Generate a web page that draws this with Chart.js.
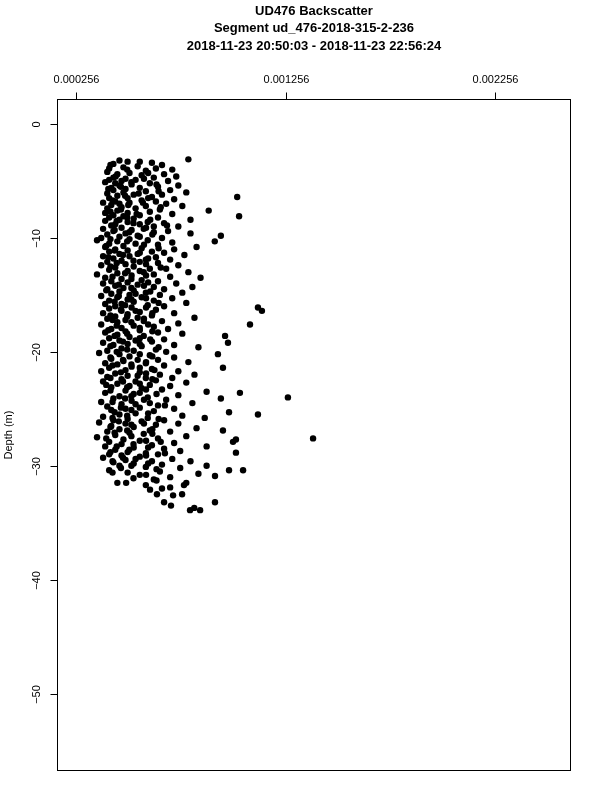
<!DOCTYPE html>
<html>
<head>
<meta charset="utf-8">
<script src="https://cdn.jsdelivr.net/npm/chart.js@4/dist/chart.umd.min.js"></script>
<style>
  html, body { margin: 0; padding: 0; background: #fff; }
  canvas { display: block; }
</style>
</head>
<body>
<canvas id="plot" width="600" height="800"></canvas>
<script>
// depth (m) and backscatter, in matching order
const depth = [
  -3.1,-3.2,-3.3,-3.4,-3.5,-3.6,-3.7,-3.8,-3.9,-3.9,-4.0,-4.1,
  -4.2,-4.3,-4.4,-4.4,-4.5,-4.6,-4.7,-4.7,-4.8,-4.9,-4.9,-5.0,-5.0,
  -5.1,-5.2,-5.2,-5.3,-5.4,-5.4,-5.5,-5.6,-5.6,-5.7,-5.8,-5.8,-5.9,-6.0,-6.0,
  -6.1,-6.2,-6.2,-6.3,-6.4,-6.4,-6.5,-6.5,-6.6,-6.7,-6.8,-6.8,-6.9,-6.9,-7.0,-7.0,
  -7.1,-7.2,-7.2,-7.3,-7.4,-7.4,-7.5,-7.6,-7.6,-7.7,-7.8,-7.8,-7.9,-8.0,-8.0,
  -8.1,-8.1,-8.2,-8.2,-8.3,-8.4,-8.4,-8.5,-8.6,-8.6,-8.7,-8.8,-8.8,-8.9,-9.0,-9.0,
  -9.1,-9.2,-9.2,-9.3,-9.4,-9.4,-9.5,-9.6,-9.6,-9.7,-9.8,-9.8,-9.9,-10.0,-10.0,
  -10.1,-10.2,-10.2,-10.3,-10.3,-10.4,-10.5,-10.5,-10.6,-10.7,-10.8,-10.8,-10.9,-11.0,-11.0,
  -11.1,-11.2,-11.2,-11.3,-11.4,-11.4,-11.5,-11.6,-11.6,-11.7,-11.8,-11.9,-11.9,-12.0,
  -12.1,-12.1,-12.2,-12.3,-12.4,-12.4,-12.5,-12.6,-12.7,-12.7,-12.8,-12.9,-13.0,-13.0,
  -13.1,-13.2,-13.2,-13.3,-13.4,-13.5,-13.5,-13.6,-13.7,-13.8,-13.8,-13.9,-14.0,-14.0,
  -14.1,-14.2,-14.3,-14.3,-14.4,-14.5,-14.5,-14.6,-14.7,-14.8,-14.8,-14.9,-15.0,-15.0,
  -15.1,-15.2,-15.2,-15.3,-15.4,-15.5,-15.5,-15.6,-15.7,-15.8,-15.8,-15.9,-16.0,-16.0,
  -16.1,-16.1,-16.2,-16.3,-16.4,-16.4,-16.5,-16.6,-16.6,-16.7,-16.8,-16.9,-17.0,-17.0,
  -17.1,-17.2,-17.3,-17.3,-17.4,-17.5,-17.6,-17.6,-17.7,-17.8,-17.9,-18.0,-18.0,
  -18.1,-18.2,-18.3,-18.3,-18.4,-18.5,-18.6,-18.6,-18.7,-18.8,-18.9,-19.0,-19.0,
  -19.1,-19.2,-19.2,-19.3,-19.4,-19.4,-19.5,-19.6,-19.7,-19.8,-19.9,-19.9,-20.0,
  -20.1,-20.2,-20.3,-20.2,-20.4,-20.5,-20.6,-20.7,-20.7,-20.8,-20.9,-21.0,-21.0,
  -21.1,-21.2,-21.3,-21.4,-21.4,-21.5,-21.6,-21.7,-21.7,-21.8,-21.9,-22.0,-22.0,
  -22.1,-22.2,-22.3,-22.3,-22.4,-22.5,-22.6,-22.6,-22.7,-22.8,-22.9,-23.0,-23.0,
  -23.1,-23.2,-23.3,-23.4,-23.5,-23.6,-23.6,-23.7,-23.8,-23.9,-24.0,-24.0,
  -24.1,-24.1,-24.2,-24.3,-24.4,-24.5,-24.5,-24.6,-24.7,-24.8,-24.9,-25.0,-25.0,
  -25.1,-25.2,-25.3,-25.4,-25.5,-25.5,-25.6,-25.7,-25.8,-25.8,-25.9,-26.0,-26.0,
  -26.1,-26.2,-26.3,-26.3,-26.4,-26.5,-26.6,-26.7,-26.8,-26.9,-26.9,-27.0,-27.0,
  -27.1,-27.2,-27.3,-27.4,-27.5,-27.6,-27.6,-27.7,-27.7,-27.8,-27.9,-28.0,-27.9,
  -28.1,-28.2,-28.3,-28.3,-28.4,-28.5,-28.6,-28.7,-28.8,-28.9,-28.85,-29.0,-29.0,
  -29.1,-29.2,-29.3,-29.4,-29.5,-29.6,-29.6,-29.7,-29.8,-29.9,-30.0,-30.0,
  -30.1,-30.2,-30.4,-30.5,-30.4,-30.4,-30.6,-30.7,-30.8,-31.0,-30.9,
  -31.2,-31.5,-31.5,-31.5,-31.7,-31.9,-32.0,
  -32.1,-32.5,-33.2,-33.5,-32.6,-32.5,-31.7,-33.2,-33.9,-33.9,-33.7,
  // denser core
  -3.3,-3.6,-4.0,-4.3,-4.6,-4.8,-5.1,-5.3,-5.5,-5.7,-5.9,-6.1,-6.3,-6.5,-6.7,-6.9,
  -7.1,-7.3,-7.5,-7.7,-7.9,-8.2,-8.4,-8.5,-8.7,-8.9,-9.1,-9.3,-9.5,-9.7,-9.9,
  -10.1,-10.3,-10.6,-10.7,-10.9,-11.1,-11.3,-11.5,-11.7,-11.8,-12.0,-12.2,-12.3,-12.5,-12.6,-12.9,
  -13.1,-13.3,-13.4,-13.6,-13.9,-14.1,-14.2,-14.4,-14.6,-14.7,-14.9,
  -15.1,-15.3,-15.4,-15.6,-15.7,-15.9,-16.1,-16.3,-16.4,-16.6,-16.8,-16.9,
  -17.1,-17.2,-17.4,-17.6,-17.7,-17.9,-18.1,-18.2,-18.4,-18.6,-18.8,-18.9,
  -19.1,-19.3,-19.5,-19.6,-19.8,-20.0,-20.2,-20.4,-20.5,-20.7,-20.9,
  -21.1,-21.2,-21.4,-21.6,-21.8,-21.9,-22.1,-22.3,-22.4,-22.6,-22.8,-22.9,
  -23.1,-23.3,-23.4,-23.6,-23.7,-23.9,-24.1,-24.2,-24.4,-24.6,-24.7,-24.9,
  -25.1,-25.3,-25.4,-25.6,-25.8,-25.9,-26.1,-26.3,-26.4,-26.6,-26.8,-26.9,
  -27.1,-27.2,-27.4,-27.6,-27.8,-27.9,-28.1,-28.3,-28.4,-28.6,-28.8,-28.9,
  -29.1,-29.3,-29.4,-29.6,-29.8,-30.0,-30.2,-30.3,-30.6,-30.8,-31.1,-31.3
];

const backscatter = [
  0.000792,0.000463,0.000502,0.000618,0.000434,0.000666,0.000550,0.000482,0.000414,0.000637,0.000715,0.000589,
  0.000405,0.000511,0.000453,0.000676,0.000569,0.000734,0.000434,0.000627,0.000492,0.000540,0.000414,0.000695,0.000473,
  0.000395,0.000443,0.000608,0.000521,0.000744,0.000463,0.000647,0.000424,0.000560,0.000492,0.000705,0.000434,0.000589,0.000482,0.000782,
  0.000405,0.000531,0.000666,0.000453,0.001025,0.000618,0.000414,0.000502,0.000724,0.000569,0.000443,0.000637,0.000385,0.000511,0.000686,0.000463,
  0.000424,0.000589,0.000763,0.000473,0.000540,0.000405,0.000656,0.000889,0.000453,0.000608,0.000502,0.000395,0.000715,0.000560,0.000434,
  0.001034,0.000482,0.000414,0.000647,0.000531,0.000463,0.000802,0.000395,0.000598,0.000502,0.000676,0.000443,0.000560,0.000424,0.000627,0.000744,
  0.000473,0.000385,0.000579,0.000521,0.000695,0.000434,0.000627,0.000492,0.000802,0.000405,0.000550,0.000947,0.000463,0.000666,0.000376,
  0.000511,0.000356,0.000598,0.000918,0.000453,0.000715,0.000414,0.000540,0.000647,0.000482,0.000831,0.000395,0.000569,0.000443,0.000724,
  0.000502,0.000618,0.000414,0.000676,0.000463,0.000550,0.000773,0.000385,0.000511,0.000637,0.000434,0.000589,0.000705,0.000473,
  0.000405,0.000560,0.000647,0.000492,0.000744,0.000376,0.000531,0.000443,0.000608,0.000686,0.000414,0.000502,0.000579,0.000792,
  0.000453,0.000356,0.000627,0.000521,0.000705,0.000395,0.000850,0.000473,0.000569,0.000647,0.000424,0.000502,0.000734,0.000385,
  0.000550,0.000443,0.000811,0.000627,0.000482,0.000405,0.000676,0.000531,0.000463,0.000589,0.000763,0.000424,0.000511,0.000656,
  0.000376,0.000569,0.000453,0.000715,0.000502,0.000414,0.000627,0.000531,0.000782,0.000473,0.000395,0.000598,0.000676,0.000443,
  0.001124,0.000521,0.000414,0.000637,0.000473,0.001143,0.000560,0.000385,0.000724,0.000502,0.000618,0.000443,0.000550,0.000821,
  0.000405,0.000492,0.000666,0.000579,0.000453,0.000744,0.001086,0.000376,0.000531,0.000627,0.000473,0.000424,0.000695,
  0.000560,0.000492,0.000395,0.000647,0.000763,0.000453,0.000579,0.000967,0.000511,0.000414,0.000676,0.000540,0.000463,
  0.000618,0.000981,0.000385,0.000502,0.000724,0.000434,0.000569,0.000840,0.000473,0.000637,0.000405,0.000531,0.000686,
  0.000366,0.000463,0.000608,0.000933,0.000511,0.000724,0.000424,0.000550,0.000647,0.000482,0.000792,0.000395,0.000589,
  0.000453,0.000676,0.000521,0.000957,0.000414,0.000618,0.000492,0.000744,0.000376,0.000560,0.000443,0.000656,0.000821,
  0.000502,0.000405,0.000589,0.000715,0.000473,0.000637,0.000385,0.000540,0.000782,0.000453,0.000608,0.000511,0.000705,
  0.000424,0.000569,0.000666,0.000492,0.000879,0.001038,0.000395,0.000531,0.000744,0.000463,0.001267,0.000598,
  0.000947,0.000434,0.000686,0.000521,0.000376,0.000608,0.000811,0.000473,0.000647,0.000405,0.000560,0.000724,0.000492,
  0.000424,0.000627,0.000986,0.000540,0.001124,0.000463,0.000763,0.000385,0.000598,0.000870,0.000502,0.000676,0.000434,
  0.000569,0.000366,0.000744,0.000492,0.000637,0.000424,0.000531,0.000831,0.000463,0.000608,0.000957,0.000405,0.000705,
  0.000511,0.000579,0.000443,0.000782,0.000356,0.000647,0.001387,0.000482,0.001019,0.000560,0.000414,0.000724,0.001005,
  0.000473,0.000618,0.000395,0.000879,0.000531,0.000676,0.000443,0.000753,0.000502,0.000589,0.001019,0.000414,0.000647,
  0.000473,0.000560,0.000385,0.000715,0.000492,0.000802,0.000618,0.000434,0.000531,0.000666,0.000879,0.000463,
  0.000589,0.000753,0.000414,0.000656,0.001053,0.000986,0.000502,0.000840,0.000560,0.000705,0.000919,
  0.000627,0.000453,0.000495,0.000782,0.000589,0.000705,0.000666,
  0.000609,0.000642,0.000676,0.000709,0.000719,0.000762,0.000771,0.000919,0.000848,0.000800,0.000820,
  // denser core
  0.000560,0.000420,0.000500,0.000600,0.000445,0.000580,0.000520,0.000640,0.000470,0.000410,0.000650,0.000555,0.000490,0.000600,0.000430,0.000575,
  0.000505,0.000660,0.000470,0.000420,0.000545,0.000500,0.000610,0.000450,0.000530,0.000690,0.000590,0.000440,0.000510,0.000620,0.000560,
  0.000420,0.000500,0.000580,0.000400,0.000650,0.000440,0.000560,0.000480,0.000410,0.000600,0.000530,0.000450,0.000590,0.000420,0.000660,0.000560,
  0.000490,0.000590,0.000430,0.000520,0.000600,0.000460,0.000580,0.000520,0.000400,0.000610,0.000540,
  0.000460,0.000590,0.000520,0.000440,0.000650,0.000490,0.000590,0.000470,0.000540,0.000620,0.000420,0.000500,
  0.000580,0.000430,0.000520,0.000600,0.000450,0.000560,0.000410,0.000620,0.000500,0.000440,0.000560,0.000610,
  0.000480,0.000560,0.000420,0.000650,0.000500,0.000450,0.000560,0.000620,0.000420,0.000480,0.000590,
  0.000520,0.000430,0.000560,0.000630,0.000470,0.000590,0.000550,0.000420,0.000620,0.000480,0.000560,0.000400,
  0.000500,0.000590,0.000420,0.000560,0.000640,0.000520,0.000490,0.000580,0.000430,0.000540,0.000680,0.000470,
  0.000520,0.000440,0.000600,0.000500,0.000430,0.000650,0.000460,0.000580,0.000520,0.000420,0.000620,0.000500,
  0.000440,0.000620,0.000520,0.000400,0.000590,0.000660,0.000530,0.000450,0.000600,0.000510,0.000420,0.000680,
  0.000590,0.000480,0.000540,0.000430,0.000600,0.000520,0.000470,0.000640,0.000430,0.000590,0.000530,0.000640
];

const xTicks = [0.000256, 0.001256, 0.002256];
const xTickLabels = ['0.000256', '0.001256', '0.002256'];
const yTicks = [0, -10, -20, -30, -40, -50];
const yTickLabels = ['0', '\u221210', '\u221220', '\u221230', '\u221240', '\u221250'];
const titleLines = [
  'UD476 Backscatter',
  'Segment ud_476-2018-315-2-236',
  '2018-11-23 20:50:03 - 2018-11-23 22:56:24'
];
const yTitle = 'Depth (m)';

const points = depth.map((d, i) => ({ x: backscatter[i], y: d }));

// R-style frame: box, outward ticks, rotated y labels, title over the plot region
const rFrame = {
  id: 'rFrame',
  afterDraw(chart) {
    const ctx = chart.ctx;
    const a = chart.chartArea;
    const xs = chart.scales.x;
    const ys = chart.scales.y;
    const L = Math.round(a.left) + 0.5, R = Math.round(a.right) - 0.5;
    const T = Math.round(a.top) + 0.5, B = Math.round(a.bottom) - 0.5;
    ctx.save();
    ctx.strokeStyle = '#000';
    ctx.fillStyle = '#000';
    ctx.lineWidth = 1;
    ctx.strokeRect(L, T, R - L, B - T);

    ctx.font = '11px "Liberation Sans", Arial, sans-serif';
    ctx.textAlign = 'center';
    ctx.textBaseline = 'middle';
    xTicks.forEach((v, i) => {
      const px = Math.round(xs.getPixelForValue(v)) + 0.5;
      ctx.beginPath();
      ctx.moveTo(px, T);
      ctx.lineTo(px, T - 7);
      ctx.stroke();
      ctx.fillText(xTickLabels[i], px, 80);
    });

    yTicks.forEach((v, i) => {
      const py = Math.round(ys.getPixelForValue(v)) + 0.5;
      ctx.beginPath();
      ctx.moveTo(L, py);
      ctx.lineTo(L - 7, py);
      ctx.stroke();
      ctx.save();
      ctx.translate(37, py);
      ctx.rotate(-Math.PI / 2);
      ctx.fillText(yTickLabels[i], 0, 0);
      ctx.restore();
    });

    ctx.save();
    ctx.translate(9, (a.top + a.bottom) / 2);
    ctx.rotate(-Math.PI / 2);
    ctx.fillText(yTitle, 0, 0);
    ctx.restore();

    ctx.font = 'bold 13px "Liberation Sans", Arial, sans-serif';
    const cx = (a.left + a.right) / 2;
    titleLines.forEach((t, i) => ctx.fillText(t, cx, 11 + i * 17.5));
    ctx.restore();
  }
};

new Chart(document.getElementById('plot'), {
  type: 'scatter',
  data: {
    datasets: [{
      label: 'Backscatter',
      data: points,
      backgroundColor: '#000',
      borderWidth: 0,
      pointRadius: 3.2,
      pointHoverRadius: 3.2
    }]
  },
  options: {
    responsive: false,
    animation: false,
    devicePixelRatio: 1,
    layout: { padding: { left: 57, top: 99, right: 29, bottom: 29 } },
    plugins: {
      legend: { display: false },
      tooltip: { enabled: false },
      title: { display: false }
    },
    scales: {
      x: { type: 'linear', display: false, min: 0.000165, max: 0.002618 },
      y: { type: 'linear', display: false, min: -56.8, max: 2.2 }
    }
  },
  plugins: [rFrame]
});
</script>
</body>
</html>
